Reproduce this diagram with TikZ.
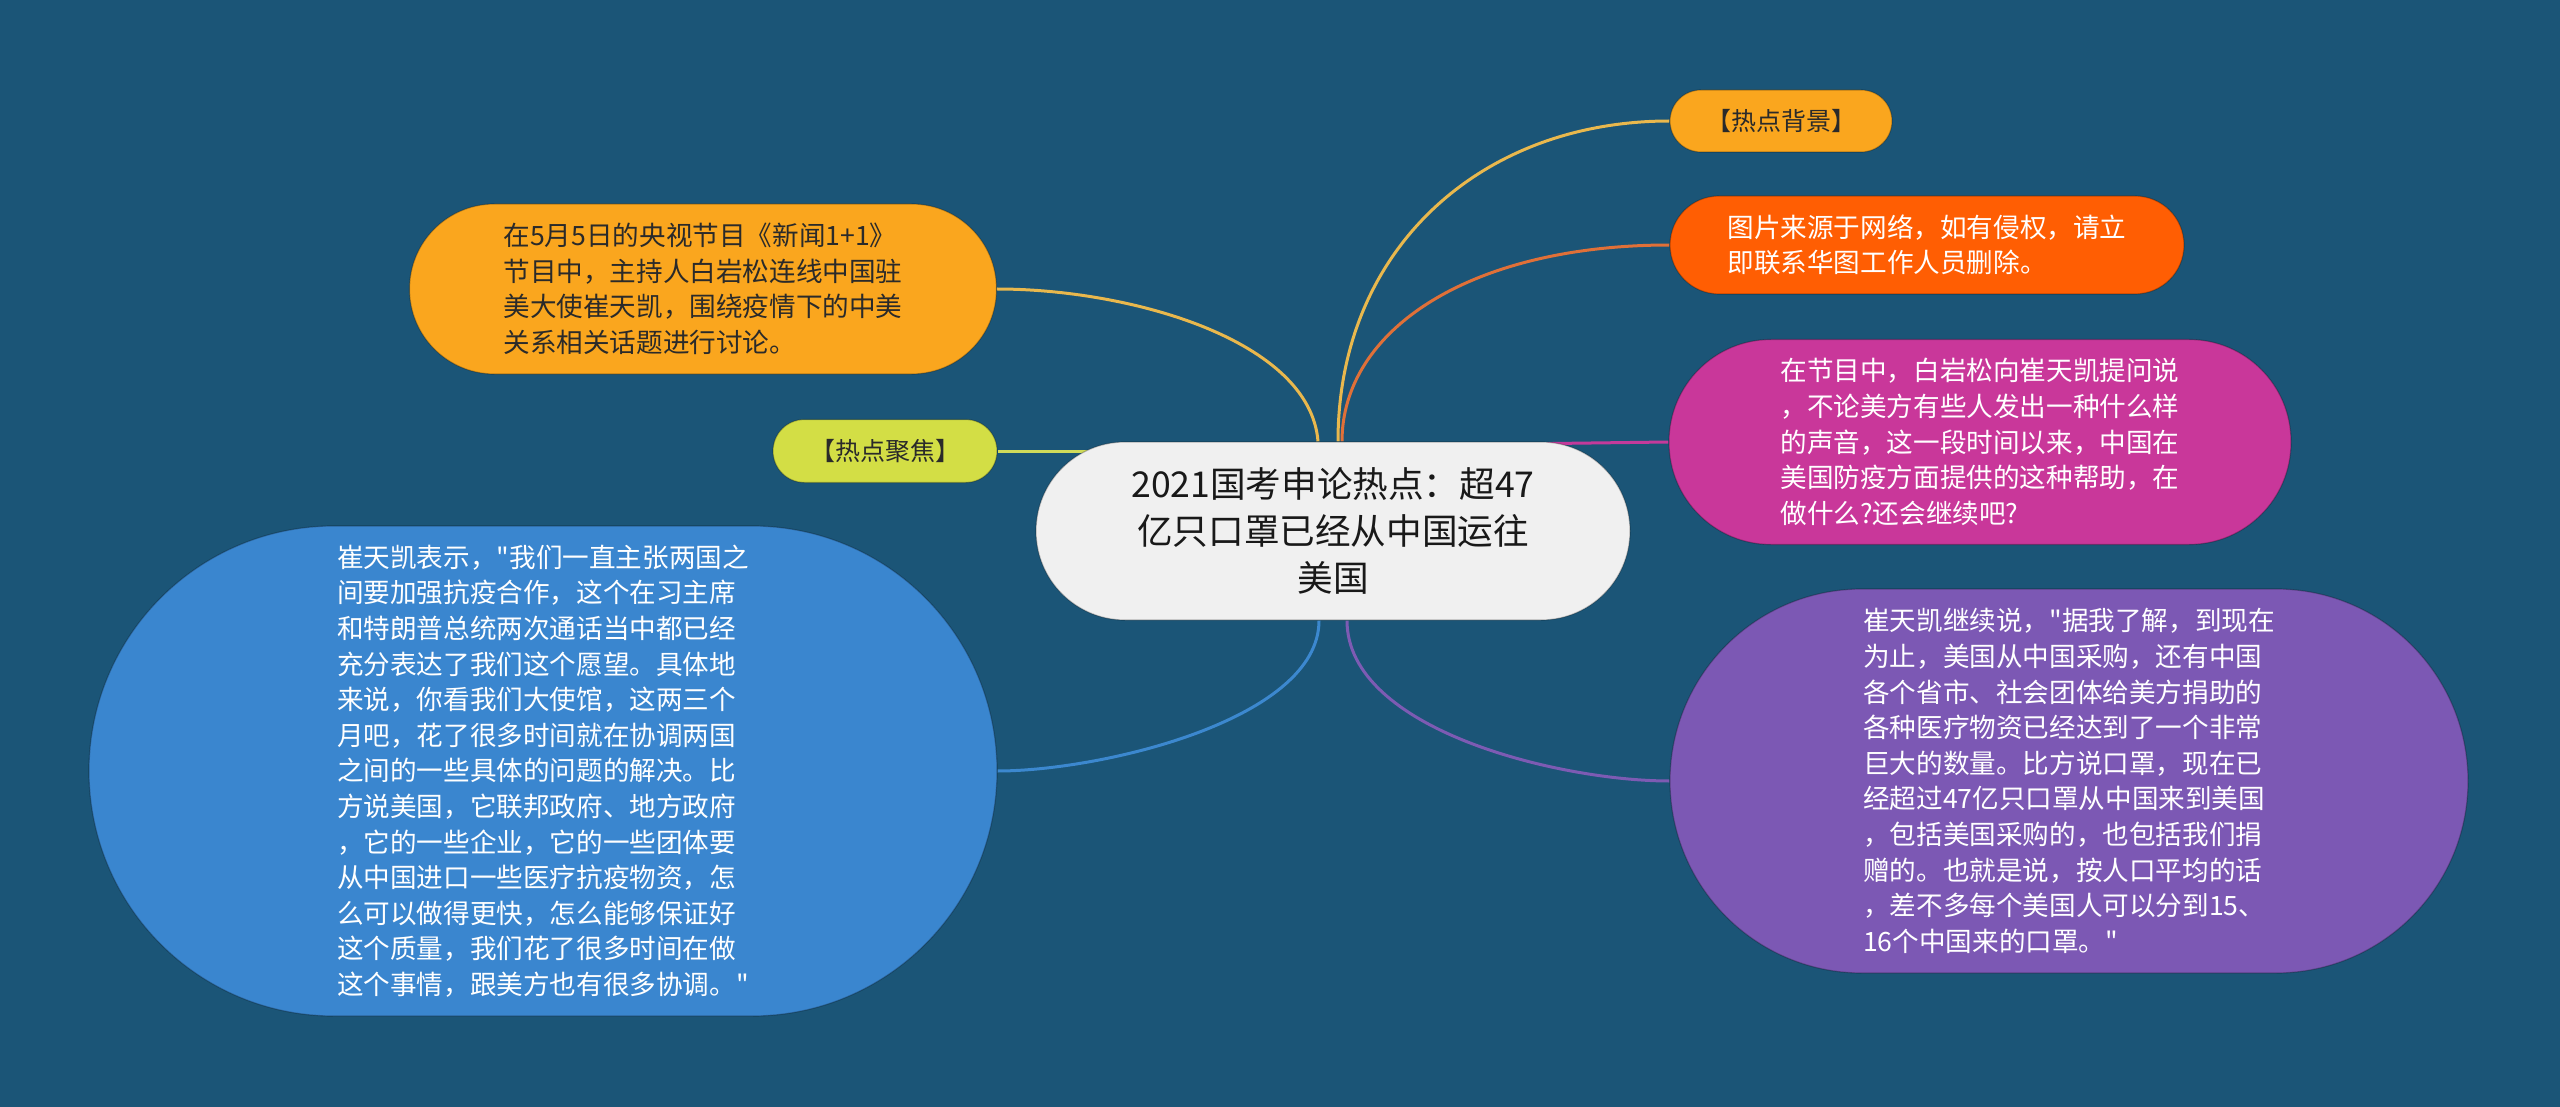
\documentclass[tikz,border=0pt]{standalone}
\usepackage{fontspec}
\setmainfont{Noto Sans CJK SC}[Ligatures=TeXOff]
\usetikzlibrary{backgrounds,calc}
\definecolor{bgc}{HTML}{1B5577}
\definecolor{cOrange}{HTML}{FAA61E}
\definecolor{cRed}{HTML}{FF5E03}
\definecolor{cMag}{HTML}{C9379A}
\definecolor{cPur}{HTML}{7C58B4}
\definecolor{cBlue}{HTML}{3A86CF}
\definecolor{cLime}{HTML}{D3DE45}
\definecolor{cCenter}{HTML}{F0F0F0}
\definecolor{lAmber}{HTML}{E9B84D}
\definecolor{lRed}{HTML}{E07038}
\definecolor{lMag}{HTML}{C43A9B}
\definecolor{lPur}{HTML}{7D5BB3}
\definecolor{lBlue}{HTML}{3C88CF}
\definecolor{lLime}{HTML}{D0DB5A}
\definecolor{darktext}{HTML}{2A2A2A}
\tikzset{
  pill/.style={rectangle, inner sep=0pt, align=left, draw=black, draw opacity=0.25, line width=1.2pt},
  bodytext/.style={font=\fontsize{26.6pt}{35.6pt}\selectfont},
  labeltext/.style={font=\fontsize{25pt}{30pt}\selectfont},
  centertext/.style={font=\fontsize{35.6pt}{47pt}\selectfont, align=center},
  conn/.style={line width=3pt},
}
\begin{document}
\begin{tikzpicture}[x=1pt,y=-1pt]
\useasboundingbox (0,0) rectangle (2560,1107);

% center
\node[pill, fill=cCenter, centertext, text=black!90, minimum width=594pt, minimum height=178pt, rounded corners=89pt] (c) at (1333,531)
  {2021国考申论热点：超47\\亿只口罩已经从中国运往\\美国};

% right side
\node[pill, fill=cOrange, labeltext, text=darktext, minimum width=222pt, minimum height=62pt, rounded corners=31pt] (bgn) at (1781,121)
  {【热点背景】};
\node[pill, fill=cRed, bodytext, text=white, minimum width=514pt, minimum height=98pt, rounded corners=49pt] (pic) at (1927,245)
  {图片来源于网络，如有侵权，请立\\即联系华图工作人员删除。};
\node[pill, fill=cMag, bodytext, text=white, minimum width=622pt, minimum height=205pt, rounded corners=102pt] (mag) at (1980,442)
  {在节目中，白岩松向崔天凯提问说\\，不论美方有些人发出一种什么样\\的声音，这一段时间以来，中国在\\美国防疫方面提供的这种帮助，在\\做什么?还会继续吧?};
\node[pill, fill=cPur, bodytext, text=white, minimum width=798pt, minimum height=384pt, rounded corners=192pt] (pur) at (2069,781)
  {崔天凯继续说，"据我了解，到现在\\为止，美国从中国采购，还有中国\\各个省市、社会团体给美方捐助的\\各种医疗物资已经达到了一个非常\\巨大的数量。比方说口罩，现在已\\经超过47亿只口罩从中国来到美国\\，包括美国采购的，也包括我们捐\\赠的。也就是说，按人口平均的话\\，差不多每个美国人可以分到15、\\16个中国来的口罩。"};

% left side
\node[pill, fill=cOrange, bodytext, text=darktext, minimum width=587pt, minimum height=170pt, rounded corners=85pt] (intro) at (703,289)
  {在5月5日的央视节目《新闻1+1》\\节目中，主持人白岩松连线中国驻\\美大使崔天凯，围绕疫情下的中美\\关系相关话题进行讨论。};
\node[pill, fill=cLime, labeltext, text=darktext, minimum width=224pt, minimum height=63pt, rounded corners=31.5pt] (focus) at (885,451)
  {【热点聚焦】};
\node[pill, fill=cBlue, bodytext, text=white, minimum width=908pt, minimum height=490pt, rounded corners=245pt] (blue) at (543,771)
  {崔天凯表示，"我们一直主张两国之\\间要加强抗疫合作，这个在习主席\\和特朗普总统两次通话当中都已经\\充分表达了我们这个愿望。具体地\\来说，你看我们大使馆，这两三个\\月吧，花了很多时间就在协调两国\\之间的一些具体的问题的解决。比\\方说美国，它联邦政府、地方政府\\，它的一些企业，它的一些团体要\\从中国进口一些医疗抗疫物资，怎\\么可以做得更快，怎么能够保证好\\这个质量，我们花了很多时间在做\\这个事情，跟美方也有很多协调。"};

\begin{scope}[on background layer]
  \fill[bgc] (0,0) rectangle (2560,1107);
  \coordinate (focusend) at ($(focus.east)+(125,0)$);
  \coordinate (magstart) at ($(c.north)+(150,3)$);
  \draw[conn, lAmber] ([xshift=5pt]c.north) .. controls (1338,250) and (1480,121) .. (bgn.west);
  \draw[conn, lRed] ([xshift=9pt]c.north) .. controls (1342,330) and (1470,245) .. (pic.west);
  \draw[conn, lMag] (magstart) -- (mag.west);
  \draw[conn, lPur] ([xshift=14pt]c.south) .. controls (1347,730) and (1560,781) .. (pur.west);
  \draw[conn, lBlue] ([xshift=-14pt]c.south) .. controls (1319,720) and (1100,771) .. (blue.east);
  \draw[conn, lAmber] ([xshift=-15pt]c.north) .. controls (1310,340) and (1130,289) .. (intro.east);
  \draw[conn, lLime] (focus.east) -- (focusend);
\end{scope}
\end{tikzpicture}
\end{document}
